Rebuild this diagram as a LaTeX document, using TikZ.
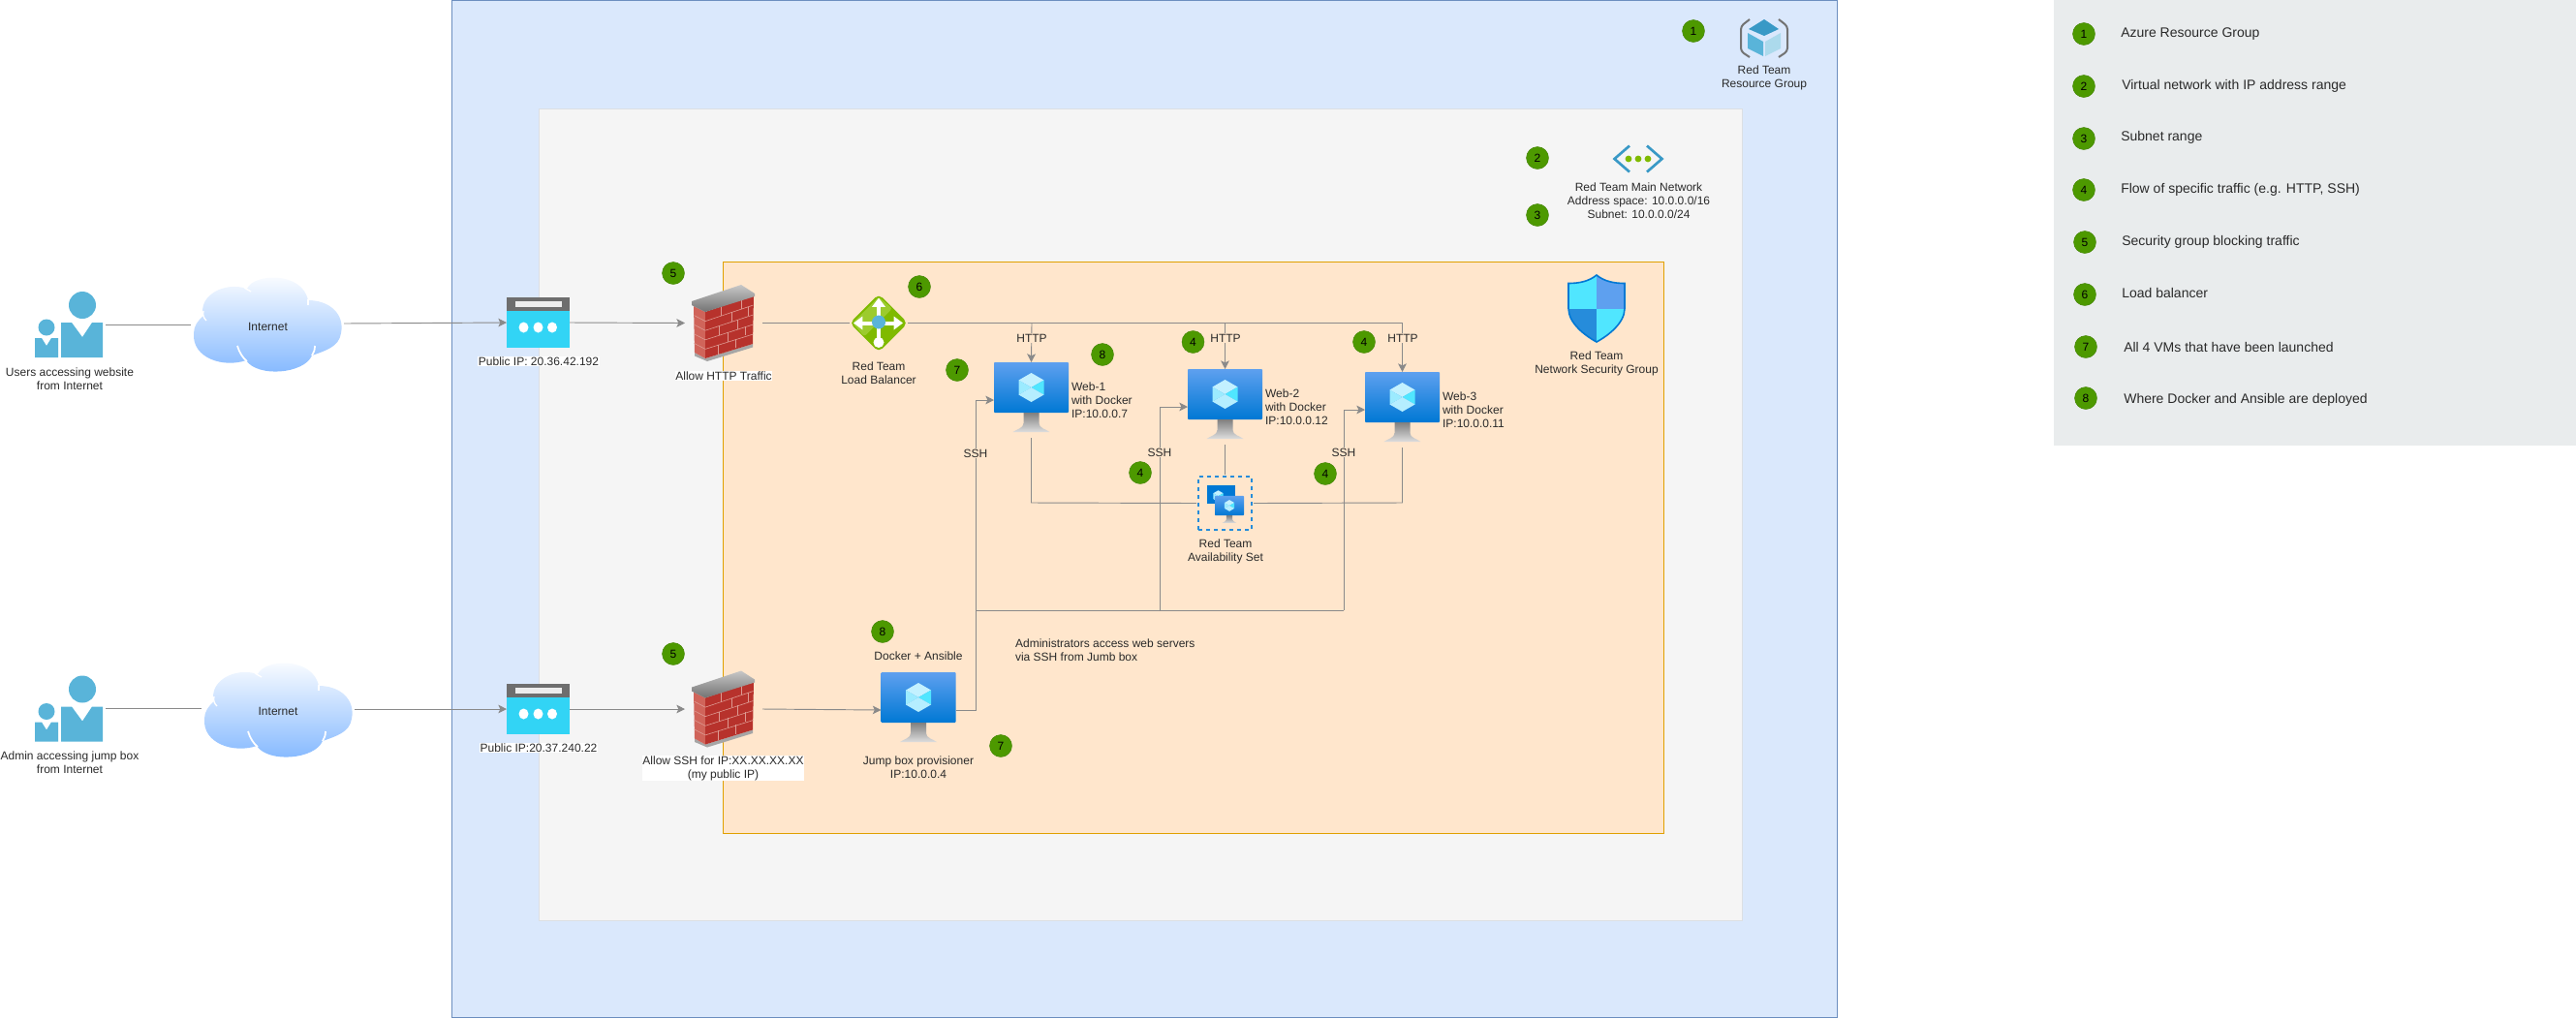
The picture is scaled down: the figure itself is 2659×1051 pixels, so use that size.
\documentclass[tikz,border=0pt]{standalone}
\usepackage{fontspec}
\setmainfont{Liberation Sans}
\usetikzlibrary{shapes,arrows.meta}

\def\pxu{0.75pt}
\definecolor{rgBlue}{HTML}{DAE8FC}
\definecolor{rgEdge}{HTML}{6C8EBF}
\definecolor{vnetGray}{HTML}{F5F5F5}
\definecolor{vnetEdge}{HTML}{DCDFE3}
\definecolor{subnetPeach}{HTML}{FFE6CC}
\definecolor{subnetEdge}{HTML}{E0A000}
\definecolor{legendGray}{HTML}{E9ECED}
\definecolor{badgeGreen}{HTML}{4D9900}
\definecolor{lineGray}{HTML}{8A8A8A}
\definecolor{textDark}{HTML}{2A2A2A}
\definecolor{azureSky}{HTML}{59B4D9}
\definecolor{azureBlue}{HTML}{0078D4}
\definecolor{azureDeep}{HTML}{3999C6}
\definecolor{cloudBlue}{HTML}{80B6FF}
\definecolor{ipCyan}{HTML}{32D4F5}
\definecolor{ipBand}{HTML}{6E6E6E}
\definecolor{lbGreen}{HTML}{7FBA00}
\definecolor{lbLight}{HTML}{9CCB2E}
\definecolor{brickRed}{HTML}{B7322C}
\definecolor{brickSide}{HTML}{D0645A}
\definecolor{brickJoint}{HTML}{DE9A92}
\definecolor{screenTop}{HTML}{5EA0EF}
\definecolor{cubeTop}{HTML}{C3F1FF}
\definecolor{cubeLeft}{HTML}{9CEBFF}
\definecolor{cubeRight}{HTML}{50E6FF}
\definecolor{cubeLow}{HTML}{B5EEFF}

\tikzstyle{panel} = [rectangle, inner sep=0pt, outer sep=0pt]
\tikzstyle{iconBox} = [rectangle, inner sep=0pt, outer sep=0pt]
\tikzstyle{lbl} = [font=\fontsize{9}{10.5}\selectfont, text=textDark, align=center, inner sep=0.6pt]
\tikzstyle{legendText} = [font=\fontsize{10.5}{12}\selectfont, text=textDark, anchor=west, inner sep=0pt, yshift=-1.2pt]
\tikzstyle{whiteLbl} = [lbl, fill=white]
\tikzstyle{peachLbl} = [lbl, fill=subnetPeach]
\tikzstyle{badge} = [circle, fill=badgeGreen, draw=badgeGreen!85!black, line width=0.3pt, minimum size=23*\pxu, inner sep=0pt, font=\fontsize{9}{10.5}\selectfont, text=black]
\tikzstyle{wire} = [draw=lineGray, line width=0.7pt]
\tikzstyle{line} = [wire, -{Stealth[length=6.5pt,width=6.5pt,inset=1.5pt]}]

% icons, drawn around the centre of a named node
\newcommand{\drawUser}[1]{
  \begin{scope}[shift={(#1.center)}, azureSky]
    \fill (14,-20) circle (14);
    \fill (-8,-2) -- (3,-2) -- (14,13) -- (24,-2) -- (35,-2) -- (35,34) -- (-8,34) -- cycle;
    \fill (-23,3) circle (8.5);
    \fill (-35,14) -- (-28,14) -- (-23,22) -- (-18,14) -- (-11,14) -- (-11,34) -- (-35,34) -- cycle;
  \end{scope}
}
\newcommand{\drawCloud}[1]{
  \begin{scope}[shift={(#1.center)}]
    \shade[top color=white, bottom color=cloudBlue]
      (-66,-8) .. controls (-72,-28) and (-45,-44) .. (-21,-36)
      .. controls (-14,-52) and (36,-54) .. (42,-24)
      .. controls (64,-24) and (80,-10) .. (76,10)
      .. controls (74,24) and (60,28) .. (46,33)
      .. controls (38,52) and (-10,56) .. (-22,38)
      .. controls (-45,46) and (-78,36) .. (-76,10)
      .. controls (-76,3) and (-72,-3) .. (-66,-8) -- cycle;
    \draw[white, line width=1.3pt] (-31,23) .. controls (-29,30) and (-25,36) .. (-21,39);
    \draw[white, line width=1.3pt] (49,23) .. controls (49,27) and (48,30) .. (46,33);
    \draw[white, line width=1pt] (42,-19) -- (42,-25);
    \draw[white, line width=1pt] (-17,-33) -- (-24,-37);
    \draw[white, line width=1pt] (-66,-13) .. controls (-67,-9) and (-66,-6) .. (-63,-3);
  \end{scope}
}
\newcommand{\drawPublicIP}[1]{
  \begin{scope}[shift={(#1.center)}]
    \fill[ipCyan] (-32.5,-26) rectangle (32.5,26);
    \fill[ipBand] (-32.5,-26) rectangle (32.5,-12);
    \fill[white!93!black] (-24,-22) rectangle (24.5,-16);
    \foreach \dotx in {-15,0,14.5} {
      \fill[white] (\dotx,5) ellipse (5 and 5.5);
    }
  \end{scope}
}
\newcommand{\drawFirewall}[1]{
  \begin{scope}[shift={(#1.center)}]
    \fill[black!35] (-30,30.5) -- (-19,36.5) -- (30,21.5) -- (30,25) -- (-17,39.5) -- (-30,34) -- cycle;
    \fill[brickSide] (-31,-17.5) -- (-19,-11.5) -- (-19,36.5) -- (-30,30.5) -- cycle;
    \fill[brickRed] (-19,-11.5) -- (31,-28.5) -- (30,21.5) -- (-19,36.5) -- cycle;
    \foreach \row in {1,2,3,4} {
      \draw[brickJoint, line width=0.45pt] (-19,-11.5+9.6*\row) -- (30.5,-28.5+10*\row);
      \draw[brickJoint, line width=0.45pt] (-30.5,-17.5+9.6*\row) -- (-19,-11.5+9.6*\row);
    }
    \foreach \row/\xa/\xb in {0/-3/18, 1/8/25, 2/-5/14, 3/4/22, 4/-6/12} {
      \draw[brickJoint, line width=0.45pt] (\xa,-11.5+9.6*\row-0.34*\xa-6.5) -- ++(0,9.6);
      \draw[brickJoint, line width=0.45pt] (\xb,-11.5+9.6*\row-0.34*\xb-6.5) -- ++(0,9.6);
    }
    \shade[top color=black!22, bottom color=black!55] (-33,-22.5) -- (18,-39.5) -- (32,-30.5) -- (32,-27.5) -- (-19,-11.5) -- (-33,-18.5) -- cycle;
  \end{scope}
}
\newcommand{\drawBalancer}[1]{
  \begin{scope}[shift={(#1.center)}]
    \fill[lbGreen, rounded corners=4pt] (-30,0) -- (0,-30) -- (30,0) -- (0,30) -- cycle;
    \fill[lbLight, rounded corners=2pt] (-27,0) -- (0,-27) -- (14,-15) -- (-15,14) -- cycle;
    \draw[white, line width=3pt, -{Triangle[length=7pt,width=10pt]}] (0,0) -- (0,-26);
    \draw[white, line width=3pt, -{Triangle[length=7pt,width=10pt]}] (0,0) -- (-26,0);
    \draw[white, line width=3pt, -{Triangle[length=7pt,width=10pt]}] (0,0) -- (25,0);
    \draw[white, line width=3pt] (0,0) -- (0,18);
    \fill[white] (0,20) circle (5.5);
    \fill[azureSky] (0,-1) circle (7);
  \end{scope}
}
\newcommand{\drawCube}{
  \fill[cubeTop] (0,-28) -- (13,-20.5) -- (0,-13) -- (-13,-20.5) -- cycle;
  \fill[cubeLeft] (-13,-20.5) -- (0,-13) -- (-13,-5.5) -- cycle;
  \fill[cubeRight] (13,-20.5) -- (0,-13) -- (13,-5.5) -- cycle;
  \fill[cubeLow] (-13,-5.5) -- (0,-13) -- (13,-5.5) -- (0,2) -- cycle;
}
\newcommand{\drawVM}[2]{
  \begin{scope}[shift={(#1)}, scale=#2]
    \shade[top color=screenTop, bottom color=azureBlue, rounded corners=0.6pt] (-38.5,-39) rectangle (38.5,13);
    \shade[top color=black!50, bottom color=black!13] (-8,13) -- (8,13) -- (8,24) .. controls (8,29) and (15,30) .. (19,33) -- (-19,33) .. controls (-15,30) and (-8,29) .. (-8,24) -- cycle;
    \drawCube
  \end{scope}
}
\newcommand{\drawShield}[1]{
  \begin{scope}[shift={(#1.center)}]
    \begin{scope}
      \clip (0,-34.5) .. controls (-8,-28) and (-18,-26) .. (-29,-26) -- (-29,0) .. controls (-29,15) and (-12,28) .. (0,34.5) .. controls (12,28) and (29,15) .. (29,0) -- (29,-26) .. controls (18,-26) and (8,-28) .. (0,-34.5) -- cycle;
      \fill[cubeRight] (-30,-35) rectangle (0,0);
      \fill[screenTop] (0,-35) rectangle (30,0);
      \fill[azureBlue!85!white] (-30,0) rectangle (0,35);
      \fill[cubeRight] (0,0) rectangle (30,35);
    \end{scope}
    \draw[azureBlue, line width=1.2pt] (0,-34.5) .. controls (-8,-28) and (-18,-26) .. (-29,-26) -- (-29,0) .. controls (-29,15) and (-12,28) .. (0,34.5) .. controls (12,28) and (29,15) .. (29,0) -- (29,-26) .. controls (18,-26) and (8,-28) .. (0,-34.5) -- cycle;
  \end{scope}
}
\newcommand{\drawGroup}[1]{
  \begin{scope}[shift={(#1.center)}]
    \draw[black!55, line width=1.5pt, rounded corners=2.5pt] (-15,-20) -- (-24,-13) -- (-24,13) -- (-15,19);
    \draw[black!55, line width=1.5pt, rounded corners=2.5pt] (15,-20) -- (24,-13) -- (24,13) -- (15,19);
    \fill[azureDeep] (0,-20) -- (15,-10) -- (0,-3) -- (-16,-10) -- cycle;
    \fill[azureSky] (-17,-6) -- (-1,3) -- (-1,18) -- (-17,10) -- cycle;
    \fill[azureSky!50!white] (17,-6) -- (1,3) -- (1,18) -- (17,10) -- cycle;
  \end{scope}
}
\newcommand{\drawVnet}[1]{
  \begin{scope}[shift={(#1.center)}]
    \draw[azureDeep, line width=2pt] (-9,-13.5) -- (-24.5,0) -- (-9,13.5);
    \draw[azureDeep, line width=2pt] (9,-13.5) -- (24.5,0) -- (9,13.5);
    \foreach \dotx in {-10,0,10} {
      \fill[lbGreen] (\dotx,0) circle (3.4);
    }
  \end{scope}
}

\begin{document}
\begin{tikzpicture}[x=0.75pt,y=-0.75pt]

   \useasboundingbox (0,0) rectangle (2659,1051);

   % Containers
   \node[panel, fill=rgBlue, draw=rgEdge, minimum width=1430*\pxu, minimum height=1050*\pxu] (rgBox) at (1181,525.5) {};
   \node[panel, fill=vnetGray, draw=vnetEdge, minimum width=1242*\pxu, minimum height=838*\pxu] (vnetBox) at (1177,531) {};
   \node[panel, fill=subnetPeach, draw=subnetEdge, minimum width=971*\pxu, minimum height=590*\pxu] (subnetBox) at (1231.5,565) {};
   \node[panel, fill=legendGray, minimum width=539*\pxu, minimum height=460*\pxu] (legendBox) at (2389.5,230) {};

   % Icons of the left hand side
   \node[iconBox, minimum width=70*\pxu, minimum height=68*\pxu] (userWeb) at (71,335) {};
   \node[iconBox, minimum width=70*\pxu, minimum height=68*\pxu] (userAdmin) at (71,731.5) {};
   \node[iconBox, minimum width=158*\pxu, minimum height=93*\pxu] (cloudWeb) at (276,334) {};
   \node[iconBox, minimum width=158*\pxu, minimum height=93*\pxu] (cloudAdmin) at (287,732) {};
   \node[iconBox, minimum width=65*\pxu, minimum height=52*\pxu] (ipWeb) at (555.5,333) {};
   \node[iconBox, minimum width=65*\pxu, minimum height=52*\pxu] (ipAdmin) at (555.5,732) {};
   \node[iconBox, minimum width=80*\pxu, minimum height=80*\pxu] (wallWeb) at (747,333.5) {};
   \node[iconBox, minimum width=80*\pxu, minimum height=80*\pxu] (wallAdmin) at (747,732) {};

   % Icons of the subnet
   \node[iconBox, minimum width=60*\pxu, minimum height=60*\pxu] (balancer) at (907,333.5) {};
   \node[iconBox, minimum width=77*\pxu, minimum height=78*\pxu] (web1) at (1064.5,413) {};
   \node[iconBox, minimum width=77*\pxu, minimum height=78*\pxu] (web2) at (1264.5,420) {};
   \node[iconBox, minimum width=77*\pxu, minimum height=78*\pxu] (web3) at (1447.5,423) {};
   \node[iconBox, minimum width=77*\pxu, minimum height=78*\pxu] (jumpBox) at (948,733) {};
   \node[rectangle, draw=azureBlue!85!white, dashed, line width=1.2pt, minimum width=55*\pxu, minimum height=55*\pxu, inner sep=0pt, outer sep=1.5pt] (avSet) at (1264.5,519.5) {};
   \node[iconBox, minimum width=58*\pxu, minimum height=69*\pxu] (nsgShield) at (1648,318.5) {};
   \node[iconBox, minimum width=51*\pxu, minimum height=40*\pxu] (rgCube) at (1821,40) {};
   \node[iconBox, minimum width=50*\pxu, minimum height=28*\pxu] (vnetIcon) at (1691,164) {};

   \drawUser{userWeb}
   \drawUser{userAdmin}
   \drawCloud{cloudWeb}
   \drawCloud{cloudAdmin}
   \drawPublicIP{ipWeb}
   \drawPublicIP{ipAdmin}
   \drawFirewall{wallWeb}
   \drawFirewall{wallAdmin}
   \drawBalancer{balancer}
   \drawVM{web1.center}{1}
   \drawVM{web2.center}{1}
   \drawVM{web3.center}{1}
   \drawVM{jumpBox.center}{1}
   \drawShield{nsgShield}
   \drawGroup{rgCube}
   \drawVnet{vnetIcon}

   % Small machines of the availability set
   \begin{scope}[shift={(avSet.center)}, scale=0.39]
      \fill[azureBlue] (-48,-47) rectangle (27,2);
      \begin{scope}[shift={(-18,-6)}]
         \drawCube
      \end{scope}
   \end{scope}
   \coordinate (avFront) at (1269,527);
   \drawVM{avFront}{0.39}

   %% Points of the lines
   \coordinate (busWeb1) at (1065,333.5);
   \coordinate (busWeb2) at (1264.5,333.5);
   \coordinate (busWeb3) at (1447.5,333.5);
   \coordinate (sshWeb1) at (1007,630);
   \coordinate (sshWeb2) at (1197,630);
   \coordinate (sshWeb3) at (1387,630);
   \coordinate (setLine) at (1265,519);

   %% Lines
   \path[wire] ([xshift=2.25pt]userWeb.east) -- (userWeb.east -| cloudWeb.west);
   \path[line] (cloudWeb.east) -- (ipWeb.west);
   \path[line] (ipWeb.east) -- (wallWeb.west);
   \path[wire] (wallWeb.east) -- (balancer.west);

   \path[wire] ([xshift=2.25pt]userAdmin.east) -- (userAdmin.east -| cloudAdmin.west);
   \path[line] (cloudAdmin.east) -- (ipAdmin.west);
   \path[line] (ipAdmin.east) -- (wallAdmin.west);
   \path[line] (wallAdmin.east) -- (jumpBox.west);

   % HTTP from the balancer
   \path[wire] (balancer.east) -- (busWeb3);
   \path[line] (busWeb1) -- (web1.north);
   \path[line] (busWeb2) -- (web2.north);
   \path[line] (busWeb3) -- (web3.north);

   % SSH from the jump box
   \path[wire] (jumpBox.east) -- (jumpBox.east -| sshWeb1) -- (sshWeb1) -- (sshWeb3);
   \path[line] (sshWeb1) -- (sshWeb1 |- web1.west) -- (web1.west);
   \path[line] (sshWeb2) -- (sshWeb2 |- web2.west) -- (web2.west);
   \path[line] (sshWeb3) -- (sshWeb3 |- web3.west) -- (web3.west);

   % Availability set
   \path[wire] (web1.south) -- (web1.south |- setLine) -- (avSet.west);
   \path[wire] (web3.south) -- (web3.south |- setLine) -- (avSet.east);
   \path[wire] (web2.south) -- (avSet.north);

   %% Labels
   \node[lbl] (userWebText) at (72,391) {Users accessing website\\from Internet};
   \node[lbl] (userAdminText) at (72,787) {Admin accessing jump box\\from Internet};
   \node[lbl] (cloudWebText) at (276.5,337) {Internet};
   \node[lbl] (cloudAdminText) at (287,734) {Internet};
   \node[whiteLbl] (ipWebText) at (556,373) {Public IP: 20.36.42.192};
   \node[whiteLbl] (ipAdminText) at (556,772) {Public IP:20.37.240.22};
   \node[whiteLbl] (wallWebText) at (747,388) {Allow HTTP Traffic};
   \node[whiteLbl] (wallAdminText) at (746.5,793) {Allow SSH for IP:XX.XX.XX.XX\\(my public IP)};

   \node[lbl] (balancerText) at (907,385) {Red Team\\Load Balancer};
   \node[peachLbl] (httpWeb1) at (1065,349) {HTTP};
   \node[peachLbl] (httpWeb2) at (1265,349) {HTTP};
   \node[peachLbl] (httpWeb3) at (1448,349) {HTTP};
   \node[lbl, align=left, anchor=west] (web1Text) at (1105,413) {Web-1\\with Docker\\IP:10.0.0.7};
   \node[lbl, align=left, anchor=west] (web2Text) at (1305,420) {Web-2\\with Docker\\IP:10.0.0.12};
   \node[lbl, align=left, anchor=west] (web3Text) at (1488,423) {Web-3\\with Docker\\IP:10.0.0.11};
   \node[peachLbl] (sshText1) at (1007,468) {SSH};
   \node[peachLbl] (sshText2) at (1197,467) {SSH};
   \node[peachLbl] (sshText3) at (1387,467) {SSH};
   \node[lbl] (avSetText) at (1265,569.5) {Red Team\\Availability Set};
   \node[lbl] (dockerText) at (948,677) {Docker + Ansible};
   \node[lbl] (jumpBoxText) at (948,792) {Jump box provisioner\\IP:10.0.0.4};
   \node[lbl, align=left, anchor=west] (adminText) at (1047,671) {Administrators access web servers\\via SSH from Jumb box};
   \node[lbl] (nsgText) at (1648,375) {Red Team\\Network Security Group};
   \node[lbl] (rgText) at (1821,80.5) {Red Team\\Resource Group};
   \node[lbl] (vnetText) at (1691.5,207) {Red Team Main Network\\Address space: 10.0.0.0/16\\Subnet: 10.0.0.0/24};

   %% Numbers
   \node[badge] (badgeGroup) at (1748,32) {1};
   \node[badge] (badgeVnet) at (1587,163) {2};
   \node[badge] (badgeSubnet) at (1587,222) {3};
   \node[badge] (badgeHttp2) at (1231.5,353) {4};
   \node[badge] (badgeHttp3) at (1408,353) {4};
   \node[badge] (badgeSsh2) at (1177,488) {4};
   \node[badge] (badgeSsh3) at (1368,489) {4};
   \node[badge] (badgeWallWeb) at (695,282) {5};
   \node[badge] (badgeWallAdmin) at (695,675) {5};
   \node[badge] (badgeBalancer) at (949,296) {6};
   \node[badge] (badgeWeb) at (988,382) {7};
   \node[badge] (badgeJump) at (1033,770) {7};
   \node[badge] (badgeDocker) at (1138,366) {8};
   \node[badge] (badgeAnsible) at (911,652) {8};

   %% Legend
   \foreach \n/\bx/\by/\tx/\ty/\txt in {
      1/2151/35/2189/33/{Azure Resource Group},
      2/2151/89/2190/87/{Virtual network with IP address range},
      3/2151/143/2189/140/{Subnet range},
      4/2151/196/2189/194/{Flow of specific traffic (e.g. HTTP, SSH)},
      5/2152/250/2190/248/{Security group blocking traffic},
      6/2152/304/2190/301/{Load balancer},
      7/2153/358/2192/357/{All 4 VMs that have been launched},
      8/2153/411/2192/411/{Where Docker and Ansible are deployed}} {
      \node[badge] (legendNum\n) at (\bx,\by) {\n};
      \node[legendText] (legendItem\n) at (\tx,\ty) {\txt};
   }

\end{tikzpicture}
\end{document}
